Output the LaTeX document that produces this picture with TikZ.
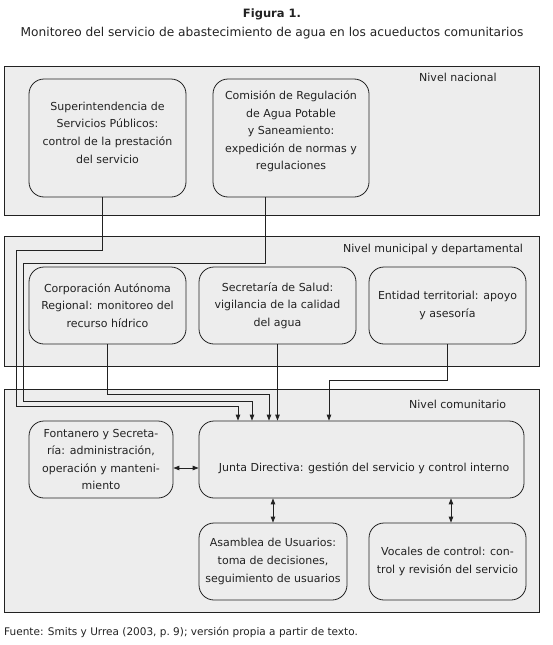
\documentclass[tikz,border=0pt]{standalone}
\usepackage{fontspec}
\setmainfont{DejaVu Sans}
\usetikzlibrary{arrows.meta}
\definecolor{panelgray}{HTML}{EDEDED}
\definecolor{ink}{HTML}{222222}
\begin{document}
\begin{tikzpicture}[x=1pt,y=-1pt,
  panel/.style={draw=ink, line width=1pt, fill=panelgray},
  box/.style={draw=ink, line width=0.8pt, rounded corners=15pt, align=center,
    font=\fontsize{11}{17.6}\selectfont, text=ink, inner sep=2pt},
  boxtext/.style={align=center, font=\fontsize{11}{17.6}\selectfont, text=ink, inner sep=0pt},
  lvl/.style={font=\fontsize{11}{13}\selectfont, text=ink, anchor=west, inner sep=0pt},
  conn/.style={draw=ink, line width=0.9pt, -{Triangle[length=6pt,width=4.5pt]}},
  dbl/.style={draw=ink, line width=0.9pt, {Triangle[length=6pt,width=4.5pt]}-{Triangle[length=6pt,width=4.5pt]}},
]
\useasboundingbox (0,0) rectangle (552,645);

% titles
\node[font=\bfseries\fontsize{11.5}{13}\selectfont, text=ink] (fig) at (272,14) {Figura 1.};
\node[font=\fontsize{12.2}{14}\selectfont, text=ink] (sub) at (272,33) {Monitoreo del servicio de abastecimiento de agua en los acueductos comunitarios};

% panels
\path[panel] (4,66) rectangle (539,215);
\path[panel] (4,236) rectangle (539,366);
\path[panel] (4,389) rectangle (539,612);

\node[lvl] (lnac) at (419,77) {Nivel nacional};
\node[lvl] (lmun) at (343,249) {Nivel municipal y departamental};
\node[lvl] (lcom) at (409,404) {Nivel comunitario};

% national
\node[box, minimum width=157pt, minimum height=118pt] (sup) at (107.5,138) {};
\node[boxtext] (supt) at (107.5,132.5) {Superintendencia de\\Servicios Públicos:\\control de la prestación\\del servicio};
\node[box, minimum width=156pt, minimum height=118pt] (com) at (291,138) {};
\node[boxtext] (comt) at (291,131.5) {Comisión de Regulación\\de Agua Potable\\y Saneamiento:\\expedición de normas y\\regulaciones};

% municipal
\node[box, minimum width=157pt, minimum height=77pt] (corp) at (107.5,305.5) {Corporación Autónoma\\Regional: monitoreo del\\recurso hídrico};
\node[box, minimum width=157pt, minimum height=77pt] (sec) at (277.5,305.5) {Secretaría de Salud:\\vigilancia de la calidad\\del agua};
\node[box, minimum width=157pt, minimum height=77pt] (ent) at (447.5,305.5) {Entidad territorial: apoyo\\y asesoría};

% community
\node[box, minimum width=144pt, minimum height=77pt] (fon) at (101,459.5) {Fontanero y Secreta-\\ría: administración,\\operación y manteni-\\miento};
\node[box, minimum width=325pt, minimum height=77pt] (jun) at (361.5,459.5) {};
\node[boxtext] (junt) at (364,468) {Junta Directiva: gestión del servicio y control interno};
\node[box, minimum width=148pt, minimum height=77pt] (asa) at (273,561.5) {Asamblea de Usuarios:\\toma de decisiones,\\seguimiento de usuarios};
\node[box, minimum width=157pt, minimum height=77pt] (voc) at (447.5,561.5) {Vocales de control: con-\\trol y revisión del servicio};

% routing coordinates
\coordinate (s1) at (102,250);
\coordinate (s2) at (16,406);
\coordinate (s3) at (238,406);
\coordinate (t1) at (265,263);
\coordinate (t2) at (23,401);
\coordinate (t3) at (252,401);
\coordinate (u1) at (269,394);
\coordinate (v1) at (329,380);
\coordinate (h1) at (0,468);
\coordinate (w1) at (451,0);

% connectors
\draw[conn] (sup.south -| s1) -- (s1) -| (s2) -- (s3) -- (jun.north -| s3);
\draw[conn] (com.south -| t1) -- (t1) -| (t2) -- (t3) -- (jun.north -| t3);
\draw[conn] (corp.south) |- (u1) -- (jun.north -| u1);
\draw[conn] (sec.south) -- (jun.north -| sec.south);
\draw[conn] (ent.south) |- (v1) -- (jun.north -| v1);

\draw[dbl] (fon.east |- h1) -- (jun.west |- h1);
\draw[dbl] (jun.south -| asa.north) -- (asa.north);
\draw[dbl] (jun.south -| w1) -- (voc.north -| w1);

\node[lvl, font=\fontsize{10.5}{13}\selectfont] (src) at (4,632) {Fuente: Smits y Urrea (2003, p.~9); versión propia a partir de texto.};
\end{tikzpicture}
\end{document}
